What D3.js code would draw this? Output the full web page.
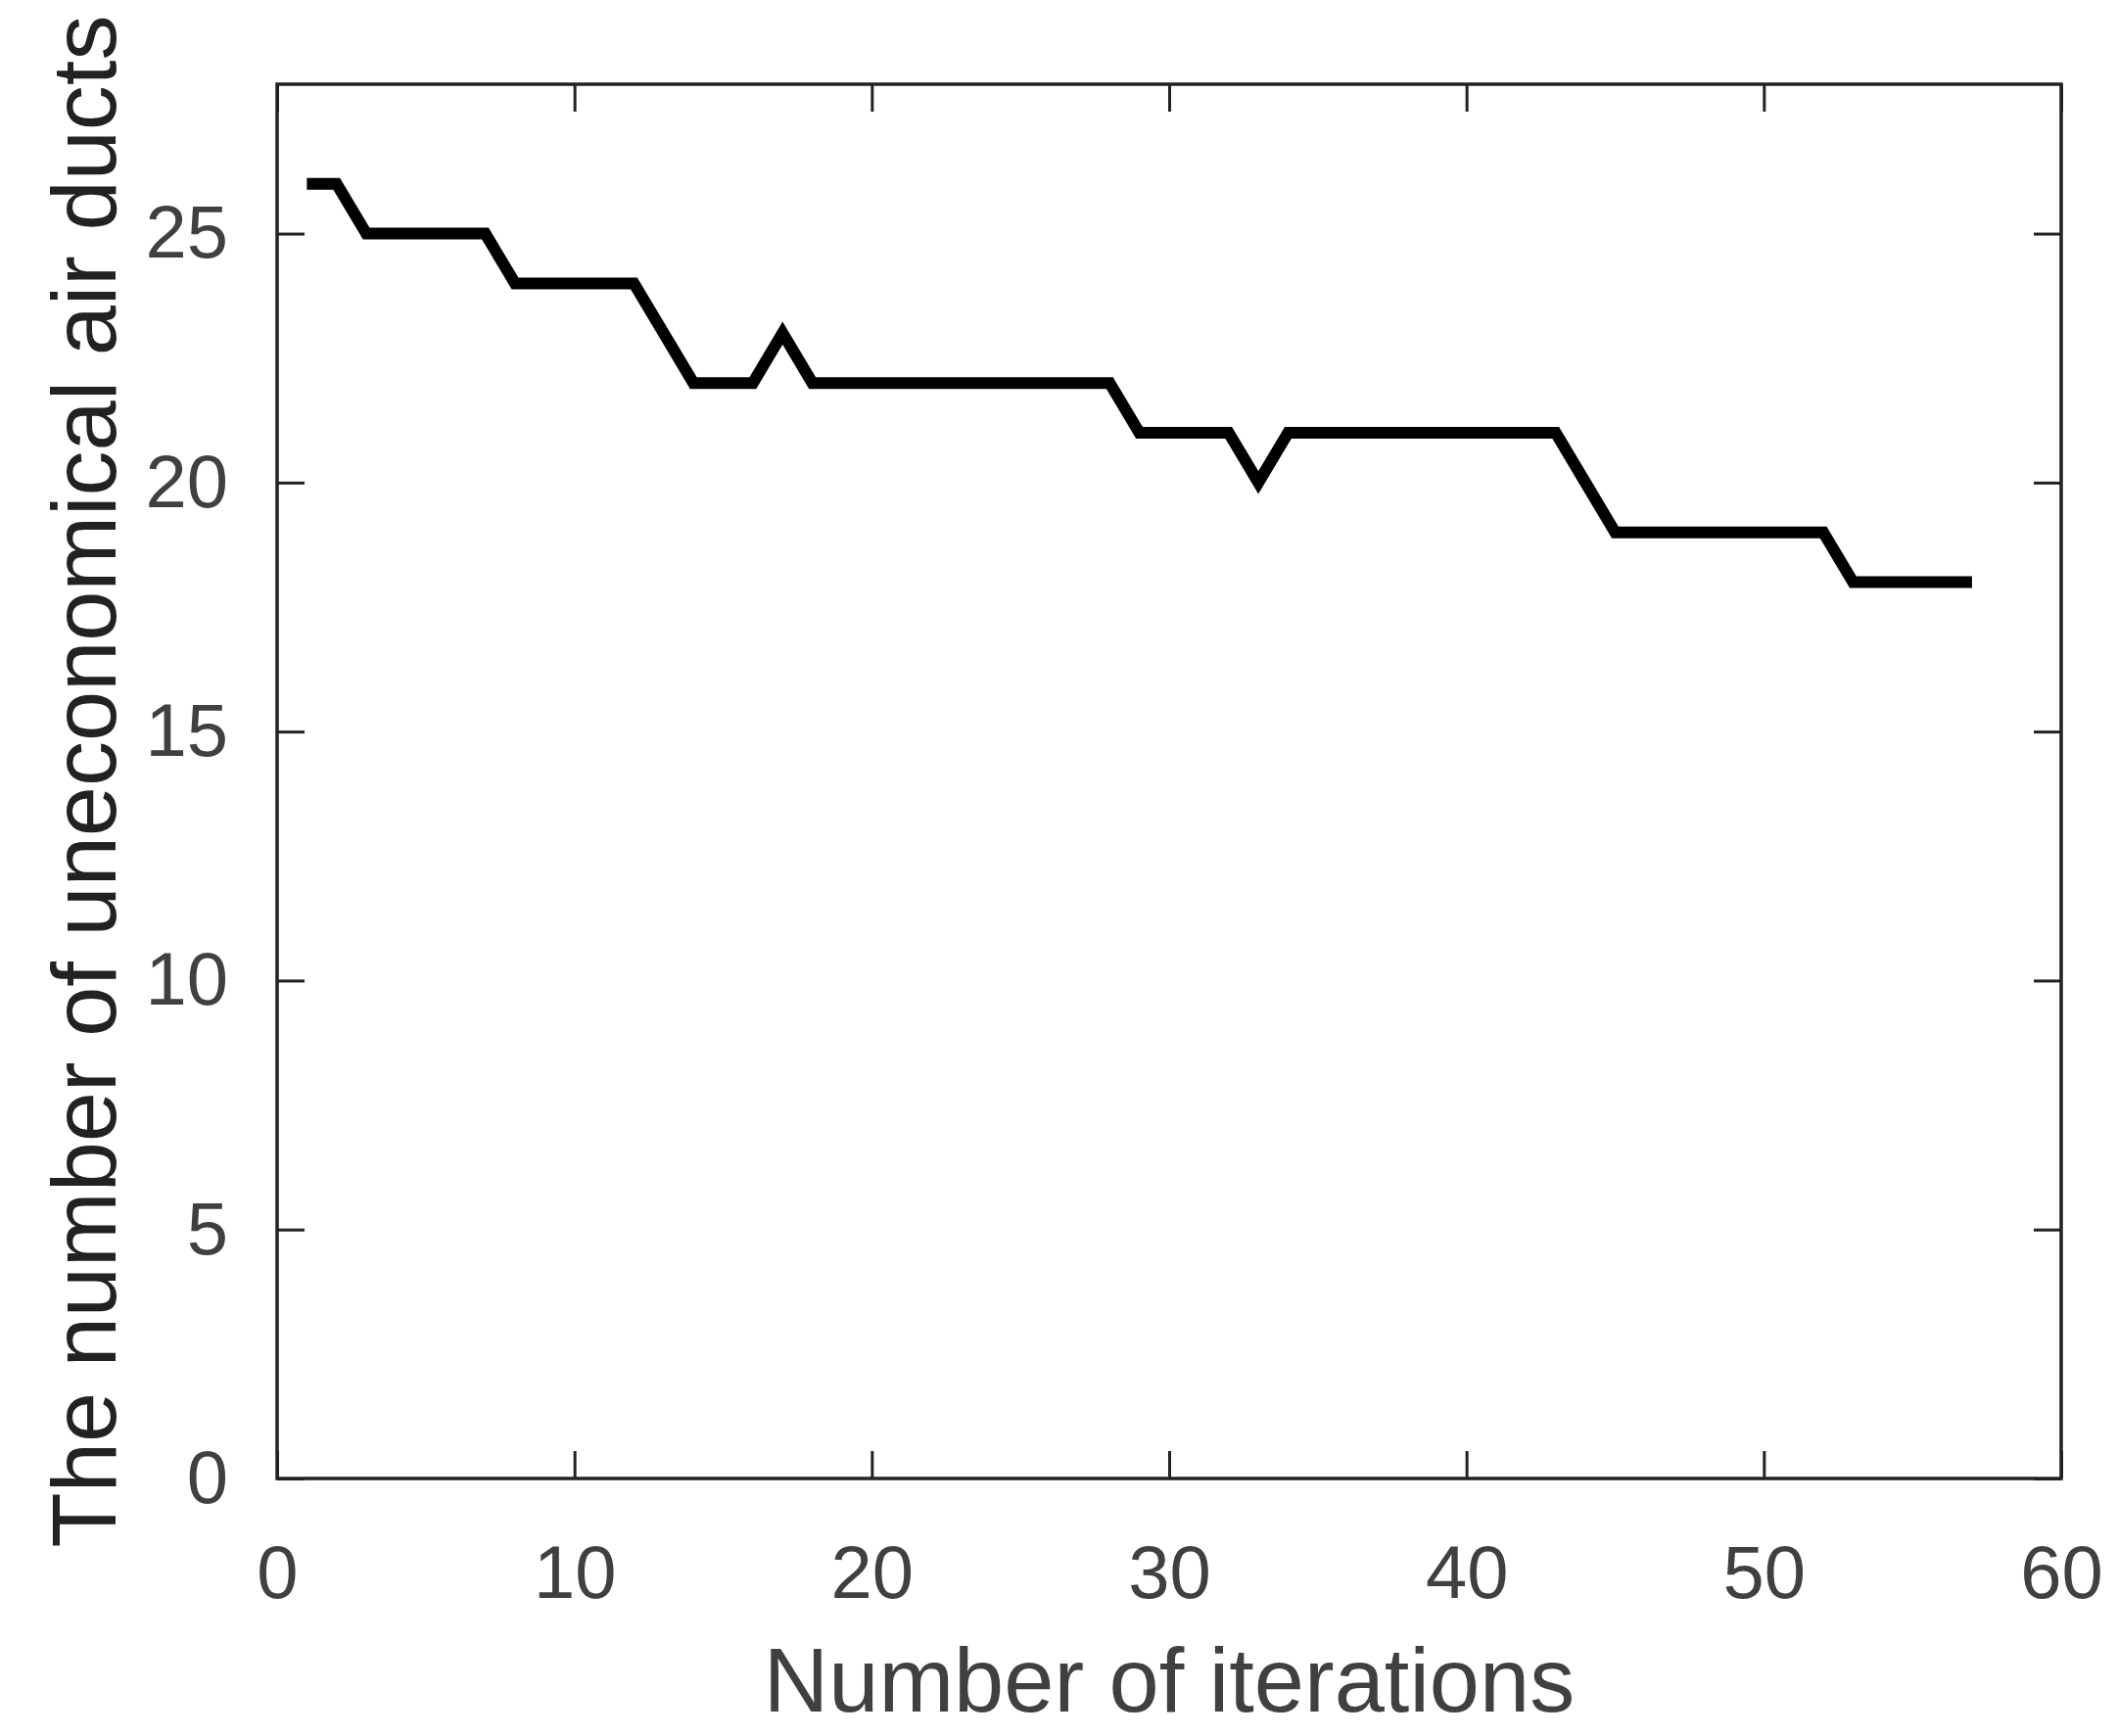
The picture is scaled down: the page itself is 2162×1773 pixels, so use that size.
<!DOCTYPE html>
<html><head><meta charset="utf-8">
<script src="https://cdn.jsdelivr.net/npm/d3@7/dist/d3.min.js"></script>
<style>body{margin:0;background:#fff}</style></head>
<body><svg id="c" width="2162" height="1773"></svg>
<script>
const iterations = d3.range(1, 58);
const ducts = [26,26,25,25,25,25,25,24,24,24,24,24,23,22,22,22,23,22,22,22,22,22,22,22,22,22,22,22,21,21,21,21,20,21,21,21,21,21,21,21,21,21,21,20,19,19,19,19,19,19,19,19,18,18,18,18,18];
const xTicks = [0,10,20,30,40,50,60];
const yTicks = [0,5,10,15,20,25];

const L=283,R=2105,T=86,B=1510;
const svg=d3.select("#c");
const x=d3.scaleLinear().domain([0,60]).range([L,R]);
const y=d3.scaleLinear().domain([0,28]).range([B,T]);
const font="Liberation Sans, Arial, sans-serif";
const tl=28;

const bot=svg.append("g").attr("transform",`translate(0,${B})`).call(d3.axisBottom(x).tickValues(xTicks).tickSizeInner(-tl).tickSizeOuter(0).tickPadding(tl+40));
const lef=svg.append("g").attr("transform",`translate(${L},0)`).call(d3.axisLeft(y).tickValues(yTicks).tickSizeInner(-tl).tickSizeOuter(0).tickPadding(tl+22));
svg.append("g").attr("transform",`translate(0,${T})`).call(d3.axisTop(x).tickValues(xTicks).tickSizeInner(-tl).tickSizeOuter(0).tickFormat(""));
svg.append("g").attr("transform",`translate(${R},0)`).call(d3.axisRight(y).tickValues(yTicks).tickSizeInner(-tl).tickSizeOuter(0).tickFormat(""));
svg.selectAll(".domain").remove();
svg.selectAll(".tick line").attr("stroke","#222").attr("stroke-width",3);
svg.selectAll(".tick text").attr("font-family",font).attr("font-size",76).attr("fill","#404040");
svg.append("rect").attr("x",L).attr("y",T).attr("width",R-L).attr("height",B-T).attr("fill","none").attr("stroke","#222").attr("stroke-width",3.5);

svg.append("path").datum(iterations.map((d,i)=>[d,ducts[i]]))
 .attr("d",d3.line().x(d=>x(d[0])).y(d=>y(d[1])))
 .attr("fill","none").attr("stroke","#000").attr("stroke-width",12).attr("stroke-linejoin","miter");

svg.append("text").attr("x",(L+R)/2).attr("y",1748).attr("text-anchor","middle")
 .attr("font-family",font).attr("font-size",92).attr("fill","#404040").text("Number of iterations");
svg.append("text").attr("transform",`translate(118,${(T+B)/2}) rotate(-90)`).attr("text-anchor","middle")
 .attr("font-family",font).attr("font-size",92).attr("fill","#222").text("The number of uneconomical air ducts");
</script></body></html>
